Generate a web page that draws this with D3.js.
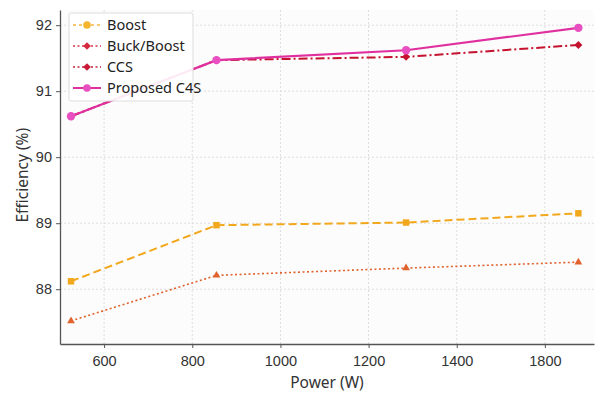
<!DOCTYPE html>
<head>
  <meta charset="utf-8">
  <script src="https://d3js.org/d3.v7.min.js"></script>
  <style>
    body { margin: 0; background: #fff; font-family: 'Noto Sans', sans-serif; }
    .tick text { font-size: 14.5px; fill: #333; }
    .axis path, .axis line { stroke: #555; }
  </style>
</head>
<body>
<div id="chart"></div>
<script>
  // data
  var power = [525, 855, 1285, 1875];
  var boost = [88.12, 88.97, 89.01, 89.15];
  var buckBoost = [87.52, 88.21, 88.32, 88.41];
  var ccs = [90.62, 91.47, 91.52, 91.70];
  var c4s = [90.62, 91.47, 91.62, 91.96];
  var xTicks = [600, 800, 1000, 1200, 1400, 1800];
  var yTicks = [88, 89, 90, 91, 92];

  var margin = { top: 10, right: 2, bottom: 50, left: 60 },
    width = 596 - margin.left - margin.right,
    height = 394 - margin.top - margin.bottom;

  var svg = d3.select("#chart").append("svg")
    .attr("width", 596).attr("height", 394)
    .append("g")
    .attr("transform", "translate(" + margin.left + "," + margin.top + ")");

  // x axis jumps from 1400 straight to 1800, so use a piecewise scale
  var x = d3.scaleLinear()
    .domain([500, 1400, 1800, 1910])
    .range([0, width * 0.743, width * 0.908, width]);
  var y = d3.scaleLinear().domain([87.17, 92.23]).range([height, 0]);

  // square diamond (rotated square)
  var diamond = {
    draw: function (ctx, size) {
      var r = Math.sqrt(size) / 2 * Math.SQRT2;
      ctx.moveTo(0, -r); ctx.lineTo(r, 0); ctx.lineTo(0, r); ctx.lineTo(-r, 0); ctx.closePath();
    }
  };

  svg.append("rect").attr("width", width).attr("height", height).attr("fill", "#fcfcfc");

  // grid
  svg.selectAll(".gx").data(xTicks).enter().append("line")
    .attr("x1", function (d) { return x(d); }).attr("x2", function (d) { return x(d); })
    .attr("y1", 0).attr("y2", height)
    .attr("stroke", "#ddd").attr("stroke-dasharray", "2,2");
  svg.selectAll(".gy").data(yTicks).enter().append("line")
    .attr("y1", function (d) { return y(d); }).attr("y2", function (d) { return y(d); })
    .attr("x1", 0).attr("x2", width)
    .attr("stroke", "#ddd").attr("stroke-dasharray", "2,2");

  svg.append("g").attr("class", "axis")
    .attr("transform", "translate(0," + height + ")")
    .call(d3.axisBottom(x).tickValues(xTicks).tickSize(4).tickSizeOuter(0).tickFormat(d3.format("d")))
    .call(function (g) { g.select(".domain").attr("stroke-width", 1.3); g.selectAll("text").attr("dy", "1.05em"); });
  svg.append("g").attr("class", "axis")
    .call(d3.axisLeft(y).tickValues(yTicks).tickSize(4).tickSizeOuter(0).tickFormat(d3.format("d")))
    .call(function (g) { g.select(".domain").attr("stroke-width", 1.3); g.selectAll("text").attr("x", -8); });

  svg.append("text").attr("x", width / 2).attr("y", height + 44)
    .attr("text-anchor", "middle").attr("font-size", 15.5).attr("fill", "#333").text("Power (W)");
  svg.append("text").attr("transform", "rotate(-90)")
    .attr("x", -(y(90) + 18)).attr("y", -32)
    .attr("text-anchor", "middle").attr("font-size", 15.5).attr("fill", "#333").text("Efficiency (%)");

  var series = [
    { name: "Boost", values: boost, color: "#f2a81d", width: 2, dash: "8,4", sym: d3.symbolSquare, size: 42,
      legColor: "#f5b640", legDash: "3,3", legSym: d3.symbolCircle, legSymColor: "#f5b52e" },
    { name: "Buck/Boost", values: buckBoost, color: "#e0622c", width: 1.6, dash: "2,2.5", sym: d3.symbolTriangle, size: 26,
      legColor: "#d8324a", legDash: "2,2.5", legSym: diamond, legSymColor: "#d42a40" },
    { name: "CCS", values: ccs, color: "#c4122f", width: 2, dash: "9,3,2,3", sym: diamond, size: 32,
      legColor: "#c4203c", legDash: "2,2.5", legSym: diamond, legSymColor: "#c81a38" },
    { name: "Proposed C4S", values: c4s, color: "#e0309f", width: 2.2, dash: null, sym: d3.symbolCircle, size: 55,
      legColor: "#e0309f", legDash: null, legSym: d3.symbolCircle, legSymColor: "#e84fc0" }
  ];

  var line = d3.line()
    .x(function (d, i) { return x(power[i]); })
    .y(function (d) { return y(d); });

  series.forEach(function (s) {
    svg.append("path").datum(s.values)
      .attr("d", line).attr("fill", "none")
      .attr("stroke", s.color).attr("stroke-width", s.width)
      .attr("stroke-dasharray", s.dash);
    svg.selectAll(null).data(s.values).enter().append("path")
      .attr("d", d3.symbol().type(s.sym).size(s.size))
      .attr("transform", function (d, i) { return "translate(" + x(power[i]) + "," + y(d) + ")"; })
      .attr("fill", s.sym === d3.symbolCircle ? "#e84fc0" : s.color);
  });

  // legend
  var leg = svg.append("g").attr("transform", "translate(9,3)");
  leg.append("rect").attr("width", 124).attr("height", 88).attr("rx", 2)
    .attr("fill", "#fff").attr("fill-opacity", 0.9).attr("stroke", "#ddd");
  series.forEach(function (s, i) {
    var g = leg.append("g").attr("transform", "translate(0," + (12 + i * 21) + ")");
    g.append("line").attr("x1", 4).attr("x2", 32)
      .attr("stroke", s.legColor).attr("stroke-width", s.legDash ? 1.5 : 2)
      .attr("stroke-dasharray", s.legDash);
    g.append("path").attr("d", d3.symbol().type(s.legSym).size(s.legSym === diamond ? 30 : 45))
      .attr("transform", "translate(18,0)").attr("fill", s.legSymColor);
    g.append("text").attr("x", 38).attr("y", 0).attr("dy", "0.35em")
      .attr("font-size", 14.5).attr("fill", "#222").text(s.name);
  });
</script>
</body>
